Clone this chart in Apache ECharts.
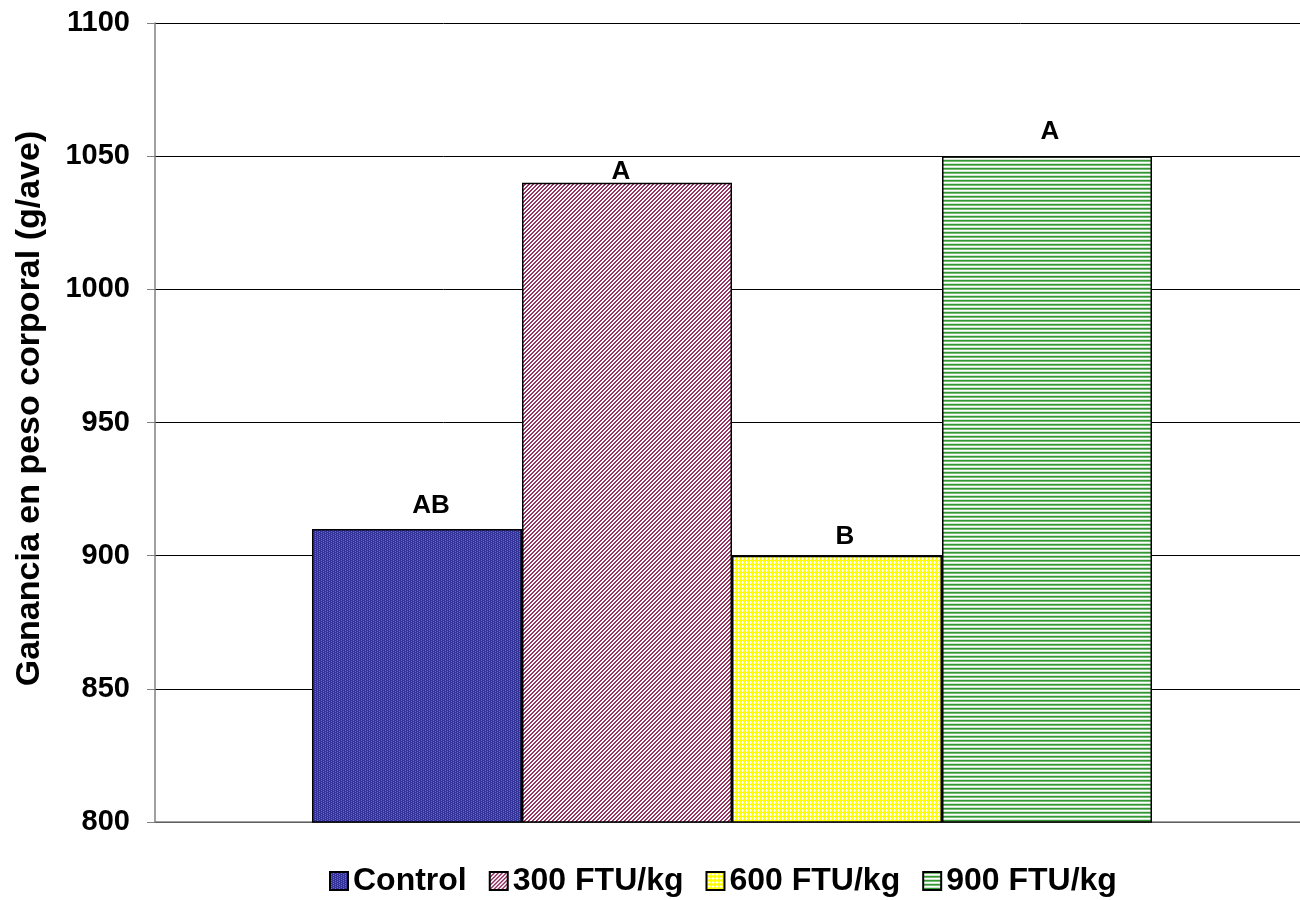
<!DOCTYPE html>
<html>
<head>
<meta charset="utf-8">
<script src="https://cdn.jsdelivr.net/npm/echarts@6/dist/echarts.min.js"></script>
<style>html,body{margin:0;padding:0;background:#fff;overflow:hidden;width:1300px;height:900px}#c{width:1309px;height:900px}</style>
</head>
<body>
<div id="c"></div>
<script>
const seriesNames = ["Control", "300 FTU/kg", "600 FTU/kg", "900 FTU/kg"];
const values = [910, 1040, 900, 1050];
const letters = ["AB", "A", "B", "A"];
const yTicks = [800, 850, 900, 950, 1000, 1050, 1100];
const yTitle = "Ganancia en peso corporal (g/ave)";

function tile(size, draw) {
  const c = document.createElement('canvas');
  c.width = size; c.height = size;
  const g = c.getContext('2d');
  draw(g);
  return { image: c, repeat: 'repeat' };
}
const patterns = [
  tile(4, g => { g.fillStyle = '#333399'; g.fillRect(0,0,4,4); g.fillStyle = '#6a6ac8';
    g.fillRect(1,0,1,1); g.fillRect(3,1,1,1); g.fillRect(1,2,1,1); g.fillRect(3,3,1,1); }),
  tile(4, g => { g.fillStyle = '#ffffff'; g.fillRect(0,0,4,4); g.fillStyle = '#993366';
    for (let x=0;x<4;x++) for (let y=0;y<4;y++) { const k=(x+y)%4; if (k===0||k===1) g.fillRect(x,y,1,1); } }),
  tile(4, g => { g.fillStyle = '#ffff00'; g.fillRect(0,0,4,4); g.fillStyle = '#ffffff';
    g.fillRect(2,1,1,1); g.fillRect(1,2,3,1); g.fillRect(2,3,1,1); }),
  tile(4, g => { g.fillStyle = '#339933'; g.fillRect(0,0,4,1); g.fillStyle = '#77bb77'; g.fillRect(0,1,4,1);
    g.fillStyle = '#ffffff'; g.fillRect(0,2,4,1); g.fillStyle = '#cce5cc'; g.fillRect(0,3,4,1); })
];
const labelDist = [10, -2, 6, 11];
const labelDx = [14, -6, 8, 3];

const font = 'Liberation Sans, Arial, sans-serif';
const chart = echarts.init(document.getElementById('c'), null, { renderer: 'canvas' });
chart.setOption({
  animation: false,
  backgroundColor: '#ffffff',
  grid: { left: 155, top: 23, right: 0, height: 799, containLabel: false },
  legend: {
    data: seriesNames,
    top: 860,
    left: 324,
    itemWidth: 18,
    itemHeight: 18,
    itemGap: 22,
    icon: 'rect',
    textStyle: { fontFamily: font, fontWeight: 'bold', fontSize: 32, color: '#000' }
  },
  xAxis: {
    type: 'category',
    data: [''],
    axisLine: { lineStyle: { color: '#808080', width: 1.5 } },
    axisTick: { show: false },
    axisLabel: { show: false }
  },
  yAxis: {
    type: 'value',
    min: yTicks[0],
    max: yTicks[yTicks.length - 1],
    interval: 50,
    name: yTitle,
    nameLocation: 'middle',
    nameGap: 108,
    nameRotate: 90,
    nameTextStyle: { fontFamily: font, fontWeight: 'bold', fontSize: 34, color: '#000',
      padding: [0, 0, 0, 28] },
    axisLine: { show: true, lineStyle: { color: '#808080', width: 1.5 } },
    axisTick: { show: true, inside: false, length: 8, lineStyle: { color: '#808080' } },
    axisLabel: { fontFamily: font, fontWeight: 'bold', fontSize: 29, color: '#000', margin: 25,
      formatter: v => String(v) },
    splitLine: { show: true, lineStyle: { color: '#000', width: 1 } }
  },
  series: seriesNames.map((n, i) => ({
    name: n,
    type: 'bar',
    barWidth: 210,
    barGap: '0%',
    data: [{ value: values[i], label: { formatter: letters[i] } }],
    itemStyle: { color: patterns[i], borderColor: '#000', borderWidth: 1.5 },
    label: {
      show: true, position: 'top', distance: labelDist[i], offset: [labelDx[i], 0],
      fontFamily: font, fontWeight: 'bold', fontSize: 26, color: '#000'
    }
  }))
});
</script>
</body>
</html>
